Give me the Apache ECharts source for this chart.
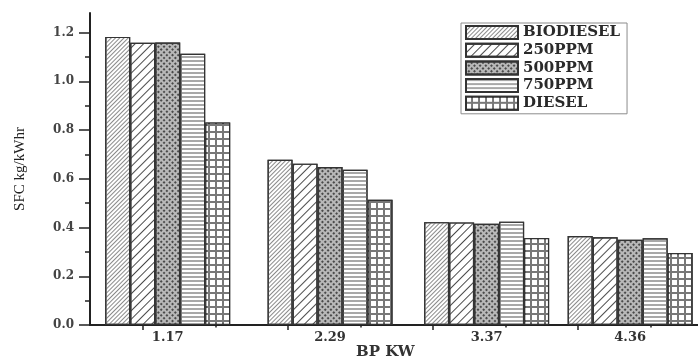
<!DOCTYPE html>
<html>
<head>
<meta charset="utf-8">
<script src="https://cdn.jsdelivr.net/npm/echarts@6/dist/echarts.min.js"></script>
<style>html,body{margin:0;padding:0;background:#fff}#c{width:698px;height:359px}</style>
</head>
<body>
<div id="c"></div>
<script>
const bpValues = [1.17, 2.29, 3.37, 4.36];
const seriesNames = ['BIODIESEL', '250PPM', '500PPM', '750PPM', 'DIESEL'];
const biodiesel = [1.182, 0.678, 0.422, 0.365];
const ppm250 = [1.158, 0.662, 0.421, 0.360];
const ppm500 = [1.159, 0.648, 0.415, 0.350];
const ppm750 = [1.113, 0.637, 0.424, 0.356];
const diesel = [0.831, 0.514, 0.357, 0.295];
const yTickLabels = [0, 0.2, 0.4, 0.6, 0.8, 1.0, 1.2];
const yMinorTicks = [0.1, 0.3, 0.5, 0.7, 0.9, 1.1];
const xMajorTicks = [1, 2, 3, 4];
const xMinorTicks = [1.5, 2.5, 3.5, 4.5];

const allValues = [biodiesel, ppm250, ppm500, ppm750, diesel];
const decals = [
  {symbol:'rect', color:'#8a8a8a', dashArrayX:[1,0], dashArrayY:[1,1.6], rotation:-Math.PI/4},
  {symbol:'rect', color:'#4a4a4a', dashArrayX:[1,0], dashArrayY:[0.9,4.2], rotation:-Math.PI/4},
  {symbol:'rect', color:'#4a4a4a', dashArrayX:[1.5,1.5], dashArrayY:[1.5,1.5], rotation:Math.PI/4},
  {symbol:'rect', color:'#a8a8a8', dashArrayX:[1,0], dashArrayY:[1.4,1.6], rotation:0},
  {symbol:'rect', color:'#ffffff', dashArrayX:[4.6,1.1], dashArrayY:[4.6,1.1], rotation:0}
];
const baseColors = ['#ffffff', '#ffffff', '#b8b8b8', '#ffffff', '#787878'];

const chart = echarts.init(document.getElementById('c'), null, {renderer:'canvas'});
const labelFont = 'DejaVu Serif';
chart.setOption({
  animation: false,
  backgroundColor: '#ffffff',
  grid: {left: 90, right: 0, top: 13, bottom: 34},
  legend: {
    orient: 'vertical', left: 461, top: 23,
    data: seriesNames,
    icon: 'rect', itemWidth: 52, itemHeight: 13, itemGap: 2.7,
    padding: [2, 7, 3, 4],
    borderColor: '#8c8c8c', borderWidth: 1,
    textStyle: {fontFamily: labelFont, fontWeight: 'bold', fontSize: 15, lineHeight: 15, color: '#2a2a2a'}
  },
  xAxis: [{
    type: 'value', min: 0.634, max: 4.828,
    axisLine: {show: true, lineStyle: {color: '#222', width: 2}},
    axisTick: {show: true, customValues: xMajorTicks, length: 5, lineStyle: {color: '#222', width: 1.5}},
    axisLabel: {show: true, customValues: bpValues, formatter: v => v.toFixed(2), margin: 6,
      fontFamily: labelFont, fontWeight: 'bold', fontSize: 13, color: '#333'},
    splitLine: {show: false}
  }, {
    type: 'value', min: 0.634, max: 4.828, position: 'bottom',
    axisLine: {show: false},
    axisTick: {show: true, customValues: xMinorTicks, length: 2.5, lineStyle: {color: '#222', width: 1.5}},
    axisLabel: {show: false},
    splitLine: {show: false}
  }],
  yAxis: [{
    type: 'value', min: 0, max: 1.28,
    name: 'SFC kg/kWhr', nameLocation: 'middle', nameGap: 62,
    nameTextStyle: {fontFamily: 'Liberation Serif', fontSize: 15, color: '#222'},
    axisLine: {show: true, lineStyle: {color: '#222', width: 2}},
    axisTick: {show: true, customValues: yTickLabels, length: 11, lineStyle: {color: '#222', width: 1.5}},
    axisLabel: {show: true, customValues: yTickLabels, formatter: v => v.toFixed(1), margin: 16,
      fontFamily: labelFont, fontWeight: 'bold', fontSize: 12, color: '#444'},
    splitLine: {show: false}
  }, {
    type: 'value', min: 0, max: 1.28, position: 'left',
    axisLine: {show: false},
    axisTick: {show: true, customValues: yMinorTicks, length: 5, lineStyle: {color: '#222', width: 1.5}},
    axisLabel: {show: false},
    splitLine: {show: false}
  }],
  graphic: [{
    type: 'text', left: 356, top: 345,
    style: {text: 'BP KW', fontFamily: labelFont, fontWeight: 'bold', fontSize: 15, fill: '#333'}
  }],
  series: seriesNames.map((name, i) => ({
    name: name, type: 'bar', xAxisIndex: 0, yAxisIndex: 0,
    barWidth: 25, barGap: '0%',
    data: bpValues.map((x, j) => [x, allValues[i][j]]),
    itemStyle: {color: baseColors[i], borderColor: '#333', borderWidth: 1.2, decal: decals[i]}
  }))
});
</script>
</body>
</html>
